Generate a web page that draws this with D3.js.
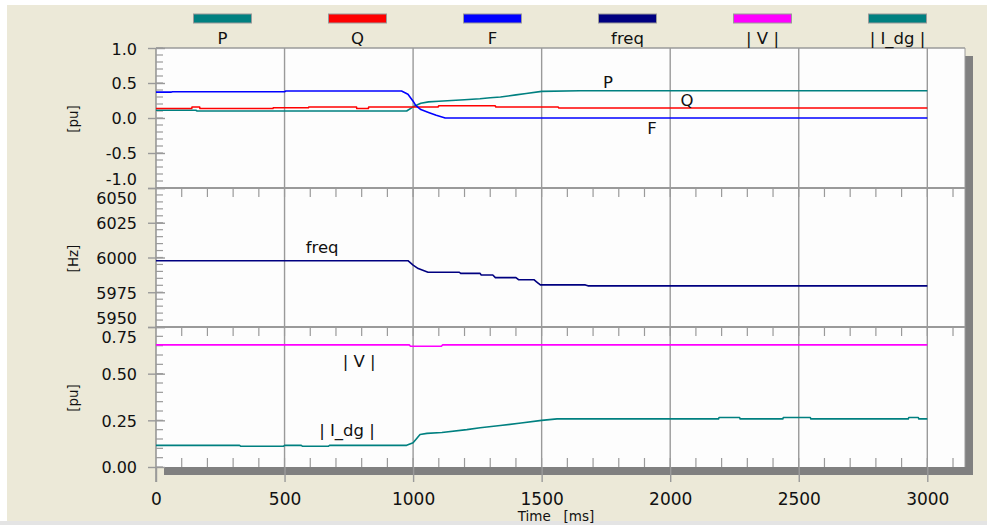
<!DOCTYPE html>
<html>
<head>
<meta charset="utf-8">
<script src="https://cdn.jsdelivr.net/npm/d3@7"></script>
<style>
  body { margin: 0; background: #fff; }
  svg text { font-family: "DejaVu Sans", "Liberation Sans", sans-serif; fill: #111; white-space: pre; }
</style>
</head>
<body>
<svg id="chart" width="987" height="525"></svg>
<script>
// ---- series names, colours, ticks ----
const seriesNames  = ["P", "Q", "F", "freq", "| V |", "| I_dg |"];
const seriesColors = ["#008080", "#ff0000", "#0000ff", "#000080", "#ff00ff", "#008080"];

const timeTicks  = [0, 500, 1000, 1500, 2000, 2500, 3000];
const timeLabels = ["0", "500", "1000", "1500", "2000", "2500", "3000"];

const puTicks   = [1.0, 0.5, 0.0, -0.5, -1.0];
const puLabels  = ["1.0", "0.5", "0.0", "-0.5", "-1.0"];
const hzTicks   = [6050, 6025, 6000, 5975, 5950];
const hzLabels  = ["6050", "6025", "6000", "5975", "5950"];
const magTicks  = [0.75, 0.50, 0.25, 0.00];
const magLabels = ["0.75", "0.50", "0.25", "0.00"];

// ---- measured series: time [ms] and value ----
const timeP = [0, 155, 160, 975, 1000, 1030, 1060, 1100, 1150, 1200, 1260, 1300, 1340, 1400, 1440, 1500, 1650, 3000];
const valP  = [0.11, 0.11, 0.10, 0.10, 0.16, 0.21, 0.23, 0.24, 0.25, 0.26, 0.275, 0.29, 0.30, 0.33, 0.35, 0.38, 0.39, 0.39];

const timeQ = [0, 139, 140, 170, 171, 455, 456, 593, 594, 780, 781, 826, 827, 1097, 1100, 1319, 1322, 1564, 1567, 3000];
const valQ  = [0.135, 0.135, 0.157, 0.157, 0.135, 0.135, 0.147, 0.147, 0.157, 0.157, 0.135, 0.135, 0.157, 0.157, 0.175, 0.175, 0.157, 0.157, 0.143, 0.143];

const timeF = [0, 60, 65, 500, 505, 955, 980, 1000, 1010, 1030, 1060, 1090, 1125, 3000];
const valF  = [0.37, 0.37, 0.375, 0.375, 0.385, 0.385, 0.34, 0.24, 0.18, 0.12, 0.08, 0.04, 0.0, 0.0];

const timeFreq = [0, 980, 1000, 1020, 1058, 1180, 1185, 1260, 1265, 1310, 1320, 1400, 1410, 1470, 1480, 1495, 1670, 1680, 3000];
const valFreq  = [5997.7, 5997.7, 5994.5, 5992, 5989.4, 5989.4, 5988.6, 5988.6, 5987.4, 5987.4, 5985.5, 5985.5, 5984, 5984, 5982.5, 5980.3, 5980.3, 5979.6, 5979.6];

const timeV = [0, 985, 990, 1110, 1115, 3000];
const valV  = [0.654, 0.654, 0.647, 0.647, 0.654, 0.654];

const timeI = [0, 325, 330, 495, 500, 565, 570, 670, 675, 975, 1000, 1027, 1054, 1112, 1209, 1261, 1339, 1420, 1500, 1560,
               2188, 2190, 2270, 2272, 2438, 2440, 2545, 2547, 2926, 2928, 2965, 2967, 3000];
const valI  = [0.116, 0.116, 0.111, 0.111, 0.116, 0.116, 0.111, 0.111, 0.116, 0.116, 0.13, 0.174, 0.18, 0.185, 0.2, 0.21, 0.222, 0.236, 0.25, 0.258,
               0.258, 0.265, 0.265, 0.258, 0.258, 0.265, 0.265, 0.258, 0.258, 0.265, 0.265, 0.258, 0.258];

// ---- layout ----
const W = 987, H = 525;
const plotL = 156, plotR = 965, plotT = 48, plotB = 467;
const svg = d3.select("#chart");

svg.append("rect").attr("width", W).attr("height", H).attr("fill", "#fff");
svg.append("rect").attr("x", 7).attr("y", 5).attr("width", W - 7).attr("height", 516).attr("fill", "#ECE9D8");
svg.append("rect").attr("x", 0).attr("y", 521).attr("width", W).attr("height", 4).attr("fill", "#e4e4e4");

const x = d3.scaleLinear().domain([0, 3000]).range([plotL, 927.3]);

const panels = [
  { top: 48,  bottom: 188, domain: [-1, 1],      ticks: puTicks,  labels: puLabels,  minor: 0.1,  title: "[pu]" },
  { top: 188, bottom: 327, domain: [5950, 6050], ticks: hzTicks,  labels: hzLabels,  minor: 5,    title: "[Hz]" },
  { top: 327, bottom: 467, domain: [0, 0.75],    ticks: magTicks, labels: magLabels, minor: 0.05, title: "[pu]" }
];
panels.forEach(p => { p.y = d3.scaleLinear().domain(p.domain).range([p.bottom, p.top]); });

// drop shadow and plot face
svg.append("rect").attr("x", plotR).attr("y", 56).attr("width", 8).attr("height", 475 - 56).attr("fill", "#808080");
svg.append("rect").attr("x", 164).attr("y", plotB).attr("width", 973 - 164).attr("height", 8).attr("fill", "#808080");
svg.append("rect").attr("x", plotL).attr("y", plotT).attr("width", plotR - plotL).attr("height", plotB - plotT)
  .attr("fill", "#fdfdfd");

const grid = svg.append("g").attr("stroke", "#9a9a9a");
// vertical grid
grid.selectAll("line.v").data(timeTicks.slice(1)).join("line")
  .attr("x1", d => x(d)).attr("x2", d => x(d)).attr("y1", plotT).attr("y2", plotB).attr("stroke-width", 1.4);
// panel separators
grid.selectAll("line.h").data([188, 327]).join("line")
  .attr("x1", plotL).attr("x2", plotR).attr("y1", d => d).attr("y2", d => d).attr("stroke-width", 2.2);
// frame top and right
grid.append("line").attr("x1", plotL).attr("x2", plotR).attr("y1", plotT).attr("y2", plotT).attr("stroke-width", 1.4);
grid.append("line").attr("x1", plotR).attr("x2", plotR).attr("y1", plotT).attr("y2", plotB).attr("stroke-width", 1);

// small time ticks under separators and above the bottom
const minorTimes = d3.range(100, 3101, 100);
const tickG = svg.append("g").attr("stroke", "#9a9a9a").attr("stroke-width", 1.2);
[188, 327].forEach(yy => {
  tickG.append("g").selectAll("line").data(minorTimes).join("line")
    .attr("x1", d => x(d)).attr("x2", d => x(d)).attr("y1", yy).attr("y2", yy + 9);
});
tickG.append("g").selectAll("line").data(minorTimes).join("line")
  .attr("x1", d => x(d)).attr("x2", d => x(d)).attr("y1", plotB - 9).attr("y2", plotB);

// left axis line
svg.append("line").attr("x1", plotL).attr("x2", plotL).attr("y1", plotT).attr("y2", 482)
  .attr("stroke", "#8a8a8a").attr("stroke-width", 1.4);

// y axes per panel
panels.forEach((p, pi) => {
  const minorVals = d3.range(p.domain[0], p.domain[1] + p.minor / 2, p.minor);
  svg.append("g").attr("stroke", "#9a9a9a").attr("stroke-width", 1.2)
    .selectAll("line").data(minorVals).join("line")
    .attr("x1", plotL).attr("x2", plotL + 7).attr("y1", d => p.y(d)).attr("y2", d => p.y(d));

  const ax = d3.axisLeft(p.y).tickValues(p.ticks)
    .tickFormat((d, i) => p.labels[i]).tickSizeInner(8).tickSizeOuter(0).tickPadding(11);
  const g = svg.append("g").attr("transform", `translate(${plotL},0)`).call(ax);
  g.select(".domain").remove();
  g.selectAll(".tick line").attr("stroke", "#9a9a9a").attr("stroke-width", 1.4).attr("x2", 9).attr("x1", -8);
  g.selectAll(".tick text").attr("font-size", 16).attr("fill", "#222")
    .attr("dy", "0.36em")
    .attr("y", d => {
      const yy = p.y(d);
      if (pi > 0 && Math.abs(yy - p.top) < 1) return 10;
      if (pi < panels.length - 1 && Math.abs(yy - p.bottom) < 1) return -9;
      return pi === 0 && Math.abs(yy - p.top) < 1 ? 1 : 0;
    });

  svg.append("text").attr("font-size", 13.5)
    .attr("transform", `translate(78,${(p.top + p.bottom) / 2 + 1}) rotate(-90)`)
    .attr("text-anchor", "middle").text(p.title);
});

// bottom time axis
const xAxis = d3.axisBottom(x).tickValues(timeTicks).tickFormat((d, i) => timeLabels[i])
  .tickSizeInner(15).tickSizeOuter(0).tickPadding(8);
const xg = svg.append("g").attr("transform", `translate(0,${plotB})`).call(xAxis);
xg.select(".domain").remove();
xg.selectAll(".tick line").attr("stroke", "#9a9a9a").attr("stroke-width", 1.4);
xg.selectAll(".tick text").attr("font-size", 17).attr("fill", "#222").attr("dy", "0.9em");
svg.append("text").attr("x", 556).attr("y", 521).attr("font-size", 13.5).attr("text-anchor", "middle")
  .text("Time   [ms]");

// ---- series lines ----
const seriesData = [
  { t: timeP,    v: valP,    panel: 0, color: seriesColors[0] },
  { t: timeQ,    v: valQ,    panel: 0, color: seriesColors[1] },
  { t: timeF,    v: valF,    panel: 0, color: seriesColors[2] },
  { t: timeFreq, v: valFreq, panel: 1, color: seriesColors[3] },
  { t: timeV,    v: valV,    panel: 2, color: seriesColors[4] },
  { t: timeI,    v: valI,    panel: 2, color: seriesColors[5] }
];
seriesData.forEach(s => {
  const yS = panels[s.panel].y;
  const line = d3.line().x(d => x(d[0])).y(d => yS(d[1]));
  svg.append("path").datum(d3.zip(s.t, s.v)).attr("d", line)
    .attr("fill", "none").attr("stroke", s.color).attr("stroke-width", 1.6).attr("stroke-linejoin", "round");
});

// ---- in-plot series labels (anchored in data units) ----
const inlineLabels = [
  { text: "P",        t: 1758, v: 0.52,   panel: 0 },
  { text: "Q",        t: 2065, v: 0.25,   panel: 0 },
  { text: "F",        t: 1929, v: -0.15,  panel: 0 },
  { text: "freq",     t: 646,  v: 6007.6, panel: 1 },
  { text: "| V |",    t: 790,  v: 0.566,  panel: 2 },
  { text: "| I_dg |", t: 743,  v: 0.20,   panel: 2 }
];
svg.append("g").selectAll("text").data(inlineLabels).join("text")
  .attr("x", d => x(d.t)).attr("y", d => panels[d.panel].y(d.v)).attr("dy", "0.36em")
  .attr("text-anchor", "middle").attr("font-size", 16.5).text(d => d.text);

// ---- legend ----
const legend = svg.append("g").selectAll("g").data(seriesNames).join("g")
  .attr("transform", (d, i) => `translate(${222.5 + i * 135},0)`);
legend.append("rect").attr("x", -29).attr("y", 14).attr("width", 58).attr("height", 9)
  .attr("fill", (d, i) => seriesColors[i]).attr("stroke", "#9a9a9a").attr("stroke-width", 1);
legend.append("text").attr("y", 44).attr("text-anchor", "middle").attr("font-size", 16.5).text(d => d);
</script>
</body>
</html>
